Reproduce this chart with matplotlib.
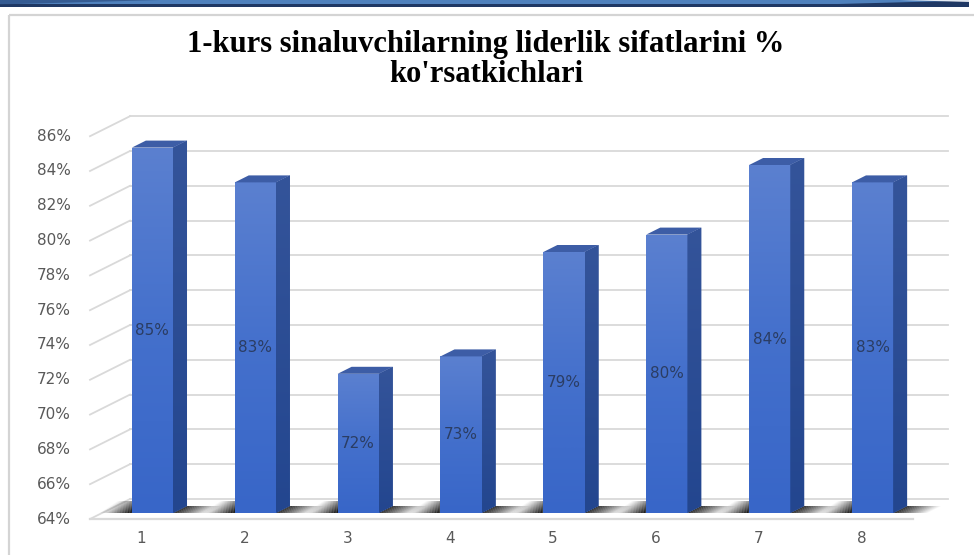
import matplotlib
matplotlib.use('Agg')
import matplotlib.pyplot as plt
import numpy as np
from matplotlib.patches import Polygon, Rectangle
from matplotlib.colors import LinearSegmentedColormap

# ---------------- data ----------------
categories = ['1', '2', '3', '4', '5', '6', '7', '8']
values = [85, 83, 72, 73, 79, 80, 84, 83]
y_ticks = [64, 66, 68, 70, 72, 74, 76, 78, 80, 82, 84, 86]
y_tick_labels = ['64%', '66%', '68%', '70%', '72%', '74%', '76%', '78%', '80%', '82%', '84%', '86%']
data_labels = ['85%', '83%', '72%', '73%', '79%', '80%', '84%', '83%']
title_lines = ['1-kurs sinaluvchilarning liderlik sifatlarini %', "ko'rsatkichlari"]

# ---------------- figure ----------------
W, H = 974, 555
fig = plt.figure(figsize=(W / 100, H / 100), dpi=100)
fig.patch.set_facecolor('white')

# background/decoration axes in pixel coordinates
bg = fig.add_axes([0, 0, 1, 1], zorder=0)
bg.set_xlim(0, W)
bg.set_ylim(H, 0)
bg.axis('off')

# top decorative strip
bg.add_patch(Rectangle((0, 0), 969, 4.6, color='#4F81BD', lw=0))
bg.add_patch(Rectangle((0, 4.3), 969, 2.9, color='#1F3864', lw=0))
bg.add_patch(Polygon([(0, 0), (160, 0), (0, 4.5)], closed=True, color='#2A4C80', alpha=0.7, lw=0))
bg.add_patch(Polygon([(820, 4.5), (969, 0.5), (969, 4.5)], closed=True, color='#1F3864', lw=0))
bg.add_patch(Polygon([(900, 0), (974, 0), (974, 2.4), (969, 2.4)], closed=True, color='white', alpha=0.85, lw=0))

# chart frame
bg.plot([8.5, 8.5], [15, H], color='#D4D4D4', lw=1.6, solid_capstyle='butt')
bg.plot([8.5, W], [15, 15], color='#D4D4D4', lw=1.6, solid_capstyle='butt')

# title
tx = 486
bg.text(tx, 52, title_lines[0], ha='center', va='baseline', fontsize=22,
        fontweight='bold', family='Liberation Serif', color='black')
bg.text(tx, 82, title_lines[1], ha='center', va='baseline', fontsize=22,
        fontweight='bold', family='Liberation Serif', color='black')

# main axes = plane of the bar front faces
ax_l, ax_r, ax_t, ax_b = 101, 924, 130.2, 513
ax = fig.add_axes([ax_l / W, 1 - ax_b / H, (ax_r - ax_l) / W, (ax_b - ax_t) / H], zorder=1)
ax.patch.set_alpha(0)
ymin, ymax = y_ticks[0], y_ticks[-1]
n = len(categories)
xs = np.arange(1, n + 1)
xmin, xmax = 0.5, n + 0.5
ax.set_xlim(xmin, xmax)
ax.set_ylim(ymin, ymax)
ax.axis('off')

sx = (xmax - xmin) / (ax_r - ax_l)      # data units per pixel (x)
sy = (ymax - ymin) / (ax_b - ax_t)      # data units per pixel (y)
def dxp(p):
    return p * sx
def dyp(p):
    return p * sy

front = (-11, -6)    # front floor plane offset (px)
back = (29, 14)      # back wall offset (px)
back_r = 24
depth = (14, 7)      # bar depth (px)
grid_c = '#D9D9D9'

# back wall grid lines + left wall diagonals
for t in y_ticks:
    ax.plot([xmin + dxp(back[0]), xmax + dxp(back_r)], [t + dyp(back[1])] * 2,
            color=grid_c, lw=1.3, clip_on=False, zorder=1)
    ax.plot([xmin + dxp(front[0]), xmin + dxp(back[0])],
            [t + dyp(front[1]), t + dyp(back[1])],
            color=grid_c, lw=1.3, clip_on=False, zorder=1)
# floor front edge
ax.plot([xmin + dxp(front[0]), xmax + dxp(front[0])], [ymin + dyp(front[1])] * 2,
        color=grid_c, lw=1.6, clip_on=False, zorder=1)

bw = 0.4
# shadows on floor
N = 20
for x in xs:
    xl = x - bw / 2
    xr = x + bw / 2
    # left shadow (dark near bar, fading left)
    L = 32
    for k in range(N):
        a0 = k / N
        a1 = (k + 1) / N
        x0 = xl - dxp(L * (1 - a0))
        x1 = xl - dxp(L * (1 - a1))
        poly = [(x0, ymin), (x1, ymin), (x1 + dxp(18), ymin + dyp(12)), (x0 + dxp(18), ymin + dyp(12))]
        ax.add_patch(Polygon(poly, closed=True, color='#000000', alpha=min(1.0, 1.1 * a1 ** 1.2),
                             lw=0, clip_on=False, zorder=2))
    # right shadow (dark near bar, fading right)
    R = 34
    for k in range(N):
        a0 = k / N
        a1 = (k + 1) / N
        x0 = xr + dxp(R * a0)
        x1 = xr + dxp(R * a1)
        poly = [(x0, ymin), (x1, ymin), (x1 + dxp(depth[0]), ymin + dyp(depth[1])),
                (x0 + dxp(depth[0]), ymin + dyp(depth[1]))]
        ax.add_patch(Polygon(poly, closed=True, color='#000000', alpha=0.95 * (1 - a0) ** 1.1,
                             lw=0, clip_on=False, zorder=2))

front_cmap = LinearSegmentedColormap.from_list('fr', ['#3866C8', '#4470CC', '#5B80D0'])
side_cmap = LinearSegmentedColormap.from_list('sd', ['#23468F', '#34549A'])
grad = np.linspace(0, 1, 256).reshape(-1, 1)

bars = ax.bar(xs, [v - ymin for v in values], bottom=ymin, width=bw, color='#4A74CC',
              lw=0, zorder=3)
for x, v, b in zip(xs, values, bars):
    xl = x - bw / 2
    xr = x + bw / 2
    ddx, ddy = dxp(depth[0]), dyp(depth[1])
    # front gradient
    im = ax.imshow(grad, extent=(xl, xr, ymin, v), origin='lower', cmap=front_cmap,
                   aspect='auto', zorder=4, interpolation='bilinear')
    im.set_clip_path(b)
    # side face
    side = Polygon([(xr, ymin), (xr + ddx, ymin + ddy), (xr + ddx, v + ddy), (xr, v)],
                   closed=True, facecolor='#2E4F96', lw=0, clip_on=False, zorder=3)
    ax.add_patch(side)
    ims = ax.imshow(grad, extent=(xr, xr + ddx, ymin, v + ddy), origin='lower', cmap=side_cmap,
                    aspect='auto', zorder=4, interpolation='bilinear')
    ims.set_clip_path(side)
    # top face
    ax.add_patch(Polygon([(xl, v), (xr, v), (xr + ddx, v + ddy), (xl + ddx, v + ddy)],
                         closed=True, facecolor='#3D5DA6', lw=0, clip_on=False, zorder=4))

ax.set_xlim(xmin, xmax)
ax.set_ylim(ymin, ymax)

# data labels
for x, v, lab in zip(xs, values, data_labels):
    ax.text(x, (ymin + v) / 2, lab, ha='center', va='center', fontsize=11,
            color='#2B3D63', family='DejaVu Sans', zorder=6)

# y tick labels (front plane)
for t, lab in zip(y_ticks, y_tick_labels):
    ax.text(xmin + dxp(front[0] - 19), t + dyp(front[1]), lab, ha='right', va='center',
            fontsize=11, color='#595959', family='DejaVu Sans', clip_on=False)

# x tick labels
for x, lab in zip(xs, categories):
    ax.text(x + dxp(front[0]), ymin + dyp(front[1] - 19.5), lab, ha='center', va='center',
            fontsize=11, color='#595959', family='DejaVu Sans', clip_on=False)

fig.savefig('out.png', dpi=100, facecolor='white')
